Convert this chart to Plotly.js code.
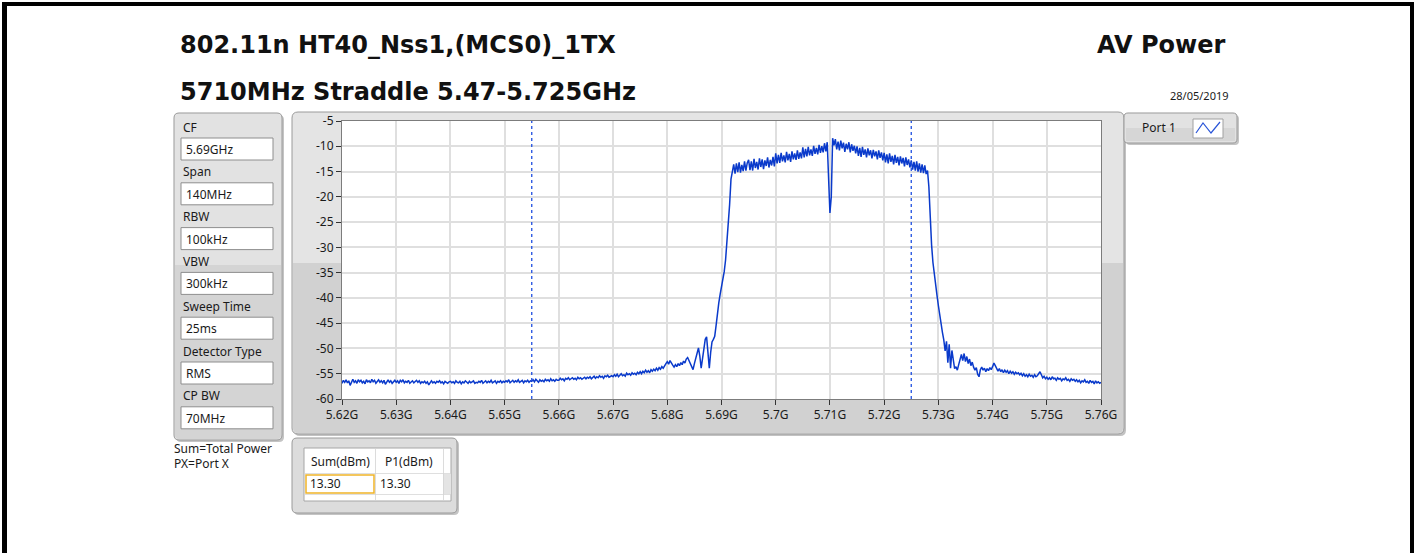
<!DOCTYPE html>
<html>
<head>
<meta charset="utf-8">
<script src="https://cdn.plot.ly/plotly-3.0.1.min.js"></script>
<style>html,body{margin:0;padding:0;background:#fff;}#chart{width:1414px;height:553px;}</style>
</head>
<body>
<div id="chart"></div>
<script>
// ---------------- DATA ----------------
const TITLE_LINE1 = '802.11n HT40_Nss1,(MCS0)_1TX';
const TITLE_LINE2 = '5710MHz Straddle 5.47-5.725GHz';
const TITLE_RIGHT = 'AV Power';
const DATE_TEXT = '28/05/2019';
const TRACE_NAME = 'Port 1';

const SETTING_LABELS = ['CF', 'Span', 'RBW', 'VBW', 'Sweep Time', 'Detector Type', 'CP BW'];
const SETTING_VALUES = ['5.69GHz', '140MHz', '100kHz', '300kHz', '25ms', 'RMS', '70MHz'];
const NOTES = ['Sum=Total Power', 'PX=Port X'];

const TABLE_HEADERS = ['Sum(dBm)', 'P1(dBm)'];
const TABLE_VALUES = ['13.30', '13.30'];

const CENTER_FREQ_GHZ = 5.69;
const SPAN_GHZ = 0.14;
const CP_BW_GHZ = 0.07;

const X_TICK_GHZ = [5.62, 5.63, 5.64, 5.65, 5.66, 5.67, 5.68, 5.69, 5.70, 5.71, 5.72, 5.73, 5.74, 5.75, 5.76];
const X_TICK_LABELS = ['5.62G', '5.63G', '5.64G', '5.65G', '5.66G', '5.67G', '5.68G', '5.69G', '5.7G', '5.71G', '5.72G', '5.73G', '5.74G', '5.75G', '5.76G'];
const Y_TICK_DBM = [-60, -55, -50, -45, -40, -35, -30, -25, -20, -15, -10, -5];
const Y_TICK_LABELS = ['-60', '-55', '-50', '-45', '-40', '-35', '-30', '-25', '-20', '-15', '-10', '-5'];

// Port 1 trace (dBm), one value per sweep bin
const P1_DBM = [
 -56.9,-56.3,-56.7,-56.2,-56.8,-56.4,-57.3,-56.5,-56.1,-56.7,-56.4,-56.9,-56.2,-56.6,-56.3,-56.8,-56.5,-57.0,-56.2,-56.6,
 -56.4,-56.8,-56.1,-56.6,-56.3,-56.9,-56.5,-56.2,-56.7,-56.4,-56.8,-56.3,-57.1,-56.6,-56.2,-56.7,-56.4,-56.9,-56.5,-56.3,
 -56.7,-56.4,-56.9,-56.3,-56.6,-56.2,-56.8,-56.5,-56.7,-56.3,-56.9,-56.6,-56.4,-56.8,-56.5,-56.3,-56.7,-56.4,-56.9,-56.6,
 -56.8,-56.5,-56.9,-56.6,-57.2,-56.7,-56.4,-56.8,-56.6,-56.9,-56.5,-56.7,-56.4,-56.8,-56.6,-57.0,-56.5,-56.7,-56.9,-56.6,
 -56.5,-56.8,-56.6,-56.9,-56.4,-56.7,-56.8,-56.5,-57.0,-56.6,-56.8,-56.4,-56.7,-56.9,-56.5,-56.8,-56.6,-56.4,-56.9,-56.7,
 -56.8,-56.5,-56.7,-56.3,-56.9,-56.6,-56.4,-56.8,-56.5,-56.7,-56.3,-56.8,-56.6,-56.4,-56.9,-56.5,-56.7,-56.4,-56.8,-56.5,
 -56.7,-56.4,-56.6,-56.2,-56.8,-56.5,-56.3,-56.7,-56.4,-56.6,-56.2,-56.7,-56.5,-56.3,-56.8,-56.4,-56.6,-56.3,-56.7,-56.4,
 -56.5,-56.2,-56.6,-56.1,-56.4,-56.7,-56.2,-56.5,-56.3,-56.6,-56.1,-56.4,-56.2,-56.5,-56.0,-56.4,-56.2,-56.5,-56.1,-56.3,
 -56.3,-55.9,-56.2,-56.0,-56.4,-55.9,-56.1,-55.8,-56.2,-56.0,-55.8,-56.1,-55.9,-56.2,-55.7,-56.0,-55.8,-56.1,-55.9,-55.7,
 -56.0,-55.7,-55.9,-55.6,-56.0,-55.7,-55.5,-55.9,-55.6,-55.8,-55.4,-55.7,-55.5,-55.9,-55.4,-55.6,-55.3,-55.7,-55.5,-55.4,
 -55.6,-55.2,-55.5,-55.1,-55.6,-55.3,-55.0,-55.4,-55.2,-55.5,-54.9,-55.2,-55.0,-55.3,-54.8,-55.1,-54.9,-55.2,-54.7,-55.0,
 -54.6,-55.0,-54.5,-54.8,-54.3,-54.7,-54.4,-54.8,-54.2,-54.5,-54.1,-54.4,-53.9,-54.3,-53.8,-54.1,-53.6,-53.9,-53.3,-53.0,
 -52.6,-53.1,-52.4,-53.0,-53.3,-53.7,-53.2,-53.6,-53.0,-53.4,-52.8,-53.2,-52.5,-52.9,-52.1,-51.8,-52.4,-52.9,-53.6,-54.2,
 -53.0,-51.8,-50.6,-49.9,-51.5,-53.9,-52.0,-49.6,-48.2,-47.7,-50.5,-53.9,-50.8,-48.7,-48.2,-47.6,-45.5,-42.8,-41.0,-39.3,
 -38.0,-36.6,-34.8,-32.5,-29.0,-25.5,-21.5,-16.5,-14.9,-13.6,-15.4,-13.4,-15.1,-13.2,-15.2,-13.7,-14.9,-13.0,-14.8,-13.3,
 -12.7,-14.7,-13.0,-14.8,-12.5,-14.3,-13.1,-14.6,-12.4,-14.1,-12.6,-14.5,-12.8,-13.9,-12.2,-14.2,-12.7,-13.8,-12.1,-14.0,
 -11.4,-13.4,-11.7,-13.3,-11.3,-13.0,-11.8,-13.2,-11.1,-12.8,-11.5,-13.1,-11.0,-12.6,-11.4,-12.7,-10.8,-12.5,-11.2,-12.4,
 -10.2,-12.2,-10.5,-12.0,-10.1,-11.8,-10.6,-11.9,-9.9,-11.5,-10.3,-11.6,-9.7,-11.3,-10.0,-11.2,-9.4,-11.0,-9.2,-18.5,
 -23.2,-20.0,-8.4,-9.8,-8.6,-10.6,-9.1,-10.8,-8.9,-10.4,-9.3,-11.1,-9.5,-10.6,-9.2,-11.2,-9.6,-10.9,-9.9,-11.4,
 -10.0,-11.9,-10.3,-12.1,-10.1,-11.7,-10.6,-12.2,-10.4,-11.8,-10.8,-12.4,-10.7,-12.0,-11.0,-12.6,-10.8,-12.3,-11.2,-12.8,
 -11.3,-13.2,-11.6,-13.4,-11.4,-13.1,-11.9,-13.6,-11.7,-13.3,-12.1,-13.8,-12.0,-13.4,-12.3,-14.0,-12.2,-13.7,-12.6,-14.2,
 -12.8,-14.6,-13.1,-14.8,-13.0,-15.0,-13.4,-15.2,-13.6,-15.3,-13.8,-15.5,-14.8,-18.0,-25.0,-29.5,-33.0,-35.5,-37.5,-39.5,
 -41.5,-43.5,-45.2,-46.8,-48.3,-50.5,-48.6,-52.8,-49.2,-53.9,-50.4,-52.3,-54.0,-53.6,-54.3,-53.2,-52.0,-51.2,-52.4,-51.0,
 -52.6,-51.6,-53.0,-52.1,-53.4,-52.7,-53.7,-54.3,-53.8,-55.1,-55.6,-54.2,-53.7,-54.3,-53.9,-54.6,-54.0,-54.4,-53.8,-54.2,
 -53.6,-52.9,-53.4,-53.9,-54.5,-54.0,-54.6,-54.2,-54.8,-54.3,-54.7,-54.4,-55.0,-54.5,-54.9,-54.6,-55.1,-54.7,-55.0,-54.8,
 -55.2,-54.9,-55.4,-55.0,-55.5,-55.2,-55.6,-55.1,-55.5,-55.3,-55.7,-55.2,-55.6,-55.4,-55.0,-54.6,-55.2,-55.8,-55.5,-56.0,
 -55.7,-56.1,-55.8,-56.2,-55.6,-56.0,-55.9,-56.3,-55.8,-56.1,-55.9,-56.4,-56.0,-56.2,-55.8,-56.3,-56.1,-56.5,-56.0,-56.3,
 -56.1,-56.5,-56.2,-56.6,-56.3,-56.8,-56.4,-56.6,-56.2,-56.7,-56.5,-56.9,-56.3,-56.7,-56.5,-57.0,-56.4,-56.8,-56.6,-56.9,
 -56.7
];

// ---------------- SWEEP AXIS (instrument bins from CF / Span) ----------------
const sweepStart = CENTER_FREQ_GHZ - SPAN_GHZ / 2;
const binStep = SPAN_GHZ / (P1_DBM.length - 1);
const freqGHz = P1_DBM.map((_, i) => sweepStart + i * binStep);

// ---------------- LAYOUT HELPERS (pixel -> paper) ----------------
const W = 1414, H = 553;
const PL = 342, PR = 1101, PT = 121, PB = 399;
const X = p => (p - PL) / (PR - PL);
const Y = p => (PB - p) / (PB - PT);
const FONT = 'Noto Sans, Open Sans, DejaVu Sans, sans-serif';
const TITLE_FONT = 'DejaVu Sans, Noto Sans, sans-serif';

function rect(x0, y0, x1, y1, fill, lineColor, lw) {
  return {type: 'rect', xref: 'paper', yref: 'paper', layer: 'below',
    x0: X(x0), x1: X(x1), y0: Y(y1), y1: Y(y0),
    fillcolor: fill, line: {color: lineColor || 'rgba(0,0,0,0)', width: lineColor ? (lw || 1) : 0}};
}
function rrect(x0, y0, x1, y1, r, fill, lineColor, lw, corners) {
  const c = corners || [r, r, r, r]; // tl, tr, br, bl
  const P = (x, y) => X(x).toFixed(6) + ',' + Y(y).toFixed(6);
  const d = 'M' + P(x0 + c[0], y0) + ' L' + P(x1 - c[1], y0) + ' Q' + P(x1, y0) + ' ' + P(x1, y0 + c[1]) +
    ' L' + P(x1, y1 - c[2]) + ' Q' + P(x1, y1) + ' ' + P(x1 - c[2], y1) +
    ' L' + P(x0 + c[3], y1) + ' Q' + P(x0, y1) + ' ' + P(x0, y1 - c[3]) +
    ' L' + P(x0, y0 + c[0]) + ' Q' + P(x0, y0) + ' ' + P(x0 + c[0], y0) + ' Z';
  return {type: 'path', xref: 'paper', yref: 'paper', layer: 'below', path: d,
    fillcolor: fill, line: {color: lineColor || 'rgba(0,0,0,0)', width: lineColor ? (lw || 1) : 0}};
}
function txt(text, x, y, size, anchor, opts) {
  return Object.assign({text: text, xref: 'paper', yref: 'paper', x: X(x), y: Y(y),
    xanchor: anchor || 'left', yanchor: 'middle', showarrow: false, borderpad: 0,
    font: {family: FONT, size: size, color: '#1a1a1a'}}, opts || {});
}

const shapes = [];
const annotations = [];

// page border
shapes.push(rect(2, 2, 1414, 6, '#000'));
shapes.push(rect(2, 2, 7, 553, '#000'));
shapes.push(rect(1410, 2, 1414, 553, '#000'));

// settings panel
shapes.push(rrect(176, 115, 284, 442, 5, '#c4c4c4'));
shapes.push(rrect(174, 113, 282, 440, 5, '#e2e2e2', '#9a9a9a', 1));
shapes.push(rrect(175, 265, 281, 439, 4, '#d4d4d4', null, 0, [0, 0, 4, 4]));
SETTING_LABELS.forEach((lab, i) => {
  const ly = 127 + i * 44.8;
  const by = 138 + i * 44.8;
  shapes.push(rect(181, by, 273, by + 22, '#ffffff', '#8e8e8e', 1));
  annotations.push(txt(lab, 182, ly, 12, 'left'));
  annotations.push(txt(SETTING_VALUES[i], 185, by + 11.5, 12, 'left'));
});
annotations.push(txt(NOTES[0], 173, 448, 12, 'left'));
annotations.push(txt(NOTES[1], 173, 463, 12, 'left'));

// graph panel
shapes.push(rrect(294, 114, 1126, 436, 6, '#c2c2c2'));
shapes.push(rrect(292, 112, 1124, 434, 6, '#e4e4e4', '#9a9a9a', 1));
shapes.push(rrect(293, 263, 1123, 433, 5, '#d1d1d1', null, 0, [0, 0, 5, 5]));
shapes.push(rect(PL, PT, PR, PB, '#ffffff'));

// legend panel
shapes.push(rrect(1126, 115, 1239, 145, 4, '#c4c4c4'));
shapes.push(rrect(1124, 113, 1237, 143, 4, '#e2e2e2', '#9a9a9a', 1));
shapes.push(rect(1126, 128, 1235, 141, '#d6d6d6'));
shapes.push(rect(1193, 119, 1223, 138, '#ffffff', '#a0a0a0', 1));
shapes.push({type: 'path', xref: 'paper', yref: 'paper', layer: 'above',
  path: 'M' + X(1196) + ',' + Y(133) + ' L' + X(1203) + ',' + Y(123) + ' L' + X(1211) + ',' + Y(133) + ' L' + X(1220) + ',' + Y(122),
  line: {color: '#2a55d8', width: 1.2}});
annotations.push(txt(TRACE_NAME, 1141, 128, 12, 'left'));

// table panel
shapes.push(rrect(294, 440, 459, 515, 5, '#c4c4c4'));
shapes.push(rrect(292, 438, 457, 513, 5, '#dcdcdc', '#9a9a9a', 1));
shapes.push(rect(304, 448, 451, 501, '#ffffff', '#a6a6a6', 1));
shapes.push(rect(443, 474, 451, 494, '#e4e4e4'));
shapes.push(rect(304, 473, 451, 473.8, '#d4d4d4'));
shapes.push(rect(304, 494, 451, 494.8, '#d4d4d4'));
shapes.push(rect(375, 448, 375.8, 501, '#d4d4d4'));
shapes.push(rect(443, 448, 443.8, 501, '#d4d4d4'));
shapes.push(rect(306, 475, 374, 493, 'rgba(0,0,0,0)', '#f0b429', 1.5));
annotations.push(txt(TABLE_HEADERS[0], 340, 461, 12, 'center'));
annotations.push(txt(TABLE_HEADERS[1], 409, 461, 12, 'center'));
annotations.push(txt(TABLE_VALUES[0], 309, 484, 12, 'left'));
annotations.push(txt(TABLE_VALUES[1], 379, 484, 12, 'left'));

// titles
const titleFont = {family: TITLE_FONT, size: 24, color: '#111'};
annotations.push(txt('<b>' + TITLE_LINE1 + '</b>', 179, 45, 24, 'left', {font: titleFont}));
annotations.push(txt('<b>' + TITLE_LINE2 + '</b>', 179, 92, 24, 'left', {font: titleFont}));
annotations.push(txt('<b>' + TITLE_RIGHT + '</b>', 1226, 45, 24, 'right', {font: titleFont}));
annotations.push(txt(DATE_TEXT, 1230, 96, 11, 'right'));

// channel power bandwidth markers (CF +/- CP BW / 2)
[CENTER_FREQ_GHZ - CP_BW_GHZ / 2, CENTER_FREQ_GHZ + CP_BW_GHZ / 2].forEach(f => {
  shapes.push({type: 'line', xref: 'x', yref: 'paper', x0: f, x1: f, y0: 0, y1: 1, layer: 'above',
    line: {color: '#1f4fe0', width: 1.3, dash: '3px,3px'}});
});

const trace = {
  type: 'scatter', mode: 'lines', name: TRACE_NAME,
  x: freqGHz, y: P1_DBM,
  line: {color: '#0a3acb', width: 1.5},
  hoverinfo: 'x+y'
};

const axisCommon = {
  showgrid: true, gridcolor: '#dfdfdf', gridwidth: 2, zeroline: false,
  showline: true, linecolor: '#7c7c7c', linewidth: 1, mirror: true,
  ticks: 'outside', ticklen: 5, tickwidth: 1, tickcolor: '#333',
  tickfont: {family: FONT, size: 12, color: '#1a1a1a'}, fixedrange: true
};

const layout = {
  width: W, height: H, autosize: false,
  margin: {l: PL, r: W - PR, t: PT, b: H - PB, pad: 0},
  paper_bgcolor: '#ffffff', plot_bgcolor: 'rgba(0,0,0,0)',
  showlegend: false,
  xaxis: Object.assign({}, axisCommon, {range: [X_TICK_GHZ[0], X_TICK_GHZ[X_TICK_GHZ.length - 1]],
    tickmode: 'array', tickvals: X_TICK_GHZ, ticktext: X_TICK_LABELS}),
  yaxis: Object.assign({}, axisCommon, {range: [Y_TICK_DBM[0], Y_TICK_DBM[Y_TICK_DBM.length - 1]],
    tickmode: 'array', tickvals: Y_TICK_DBM, ticktext: Y_TICK_LABELS}),
  shapes: shapes,
  annotations: annotations
};

Plotly.newPlot('chart', [trace], layout, {displayModeBar: false, staticPlot: true});
</script>
</body>
</html>
